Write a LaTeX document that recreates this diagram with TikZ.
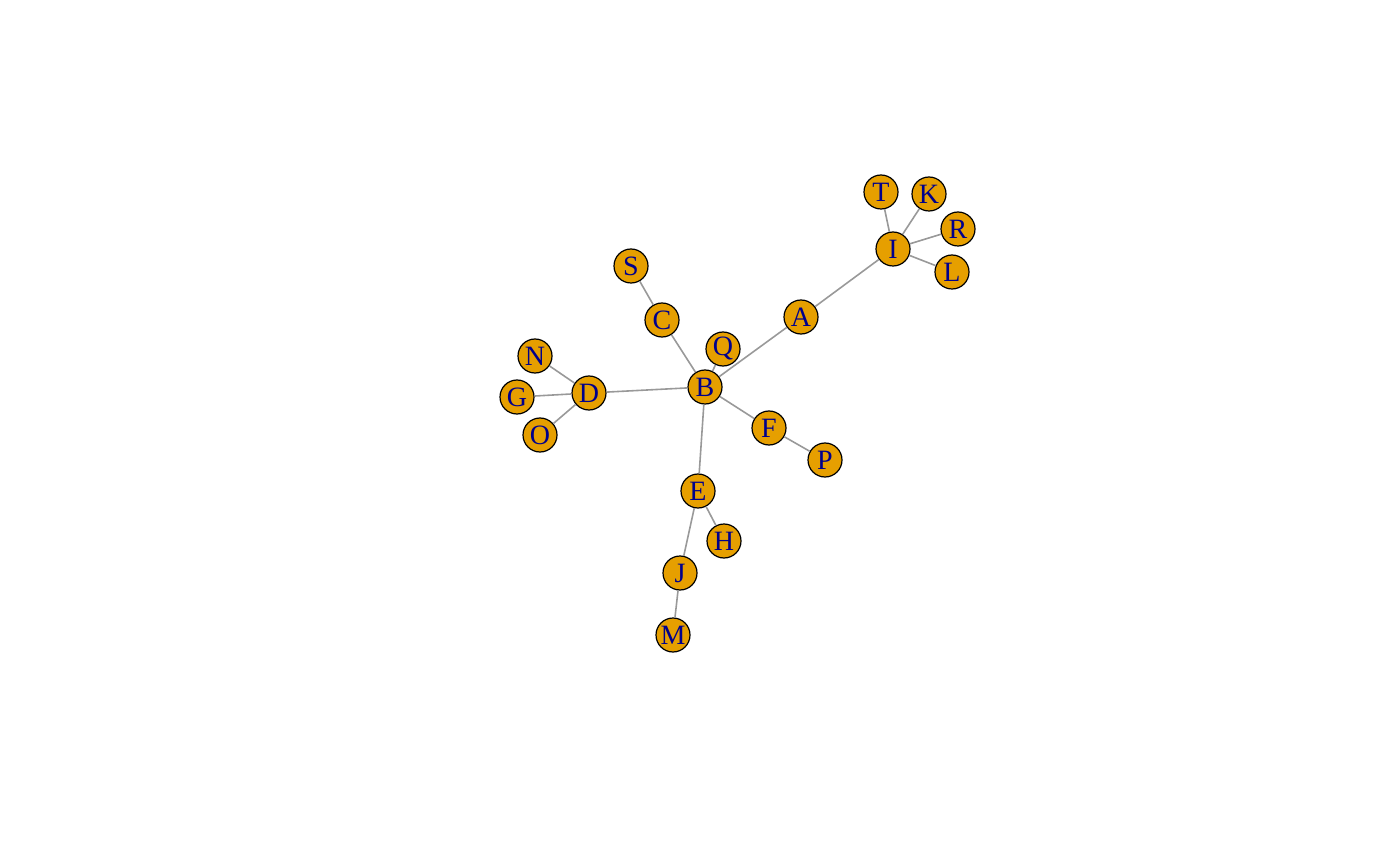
\documentclass[tikz,border=0pt]{standalone}
\usepackage{fontspec}
\setmainfont{Liberation Serif}
\usepackage{xcolor}
\definecolor{VertexOrange}{HTML}{E69F00}
\definecolor{LabelBlue}{HTML}{00008B}
\definecolor{EdgeGray}{HTML}{999999}
\tikzset{
  vertex/.style={circle, draw=black, fill=VertexOrange, line width=1.2pt, minimum size=34pt, inner sep=0pt, text=LabelBlue, font=\fontsize{28}{28}\selectfont},
  edge/.style={draw=EdgeGray, line width=1.6pt}
}
\begin{document}
\begin{tikzpicture}[x=1pt, y=-1pt]
    \useasboundingbox (0,0) rectangle (1400,866);
    \node[vertex] (A) at (801,317) {A};
    \node[vertex] (B) at (705,387) {B};
    \node[vertex] (C) at (662,320) {C};
    \node[vertex] (D) at (589,393) {D};
    \node[vertex] (E) at (698,491) {E};
    \node[vertex] (F) at (769,428) {F};
    \node[vertex] (G) at (517,397) {G};
    \node[vertex] (H) at (724,541) {H};
    \node[vertex] (I) at (893,249) {I};
    \node[vertex] (J) at (680,573) {J};
    \node[vertex] (K) at (929,194) {K};
    \node[vertex] (L) at (952,272) {L};
    \node[vertex] (M) at (673,635) {M};
    \node[vertex] (N) at (535,356) {N};
    \node[vertex] (O) at (540,435) {O};
    \node[vertex] (P) at (825,460) {P};
    \node[vertex] (Q) at (723,349) {Q};
    \node[vertex] (R) at (958,229) {R};
    \node[vertex] (S) at (631,266) {S};
    \node[vertex] (T) at (881,192) {T};

    \draw[edge] (A) -- (B);
    \draw[edge] (A) -- (I);
    \draw[edge] (B) -- (C);
    \draw[edge] (C) -- (S);
    \draw[edge] (B) -- (Q);
    \draw[edge] (B) -- (D);
    \draw[edge] (B) -- (F);
    \draw[edge] (F) -- (P);
    \draw[edge] (B) -- (E);
    \draw[edge] (E) -- (H);
    \draw[edge] (E) -- (J);
    \draw[edge] (J) -- (M);
    \draw[edge] (D) -- (N);
    \draw[edge] (D) -- (G);
    \draw[edge] (D) -- (O);
    \draw[edge] (I) -- (T);
    \draw[edge] (I) -- (K);
    \draw[edge] (I) -- (R);
    \draw[edge] (I) -- (L);
  \end{tikzpicture}
\end{document}
